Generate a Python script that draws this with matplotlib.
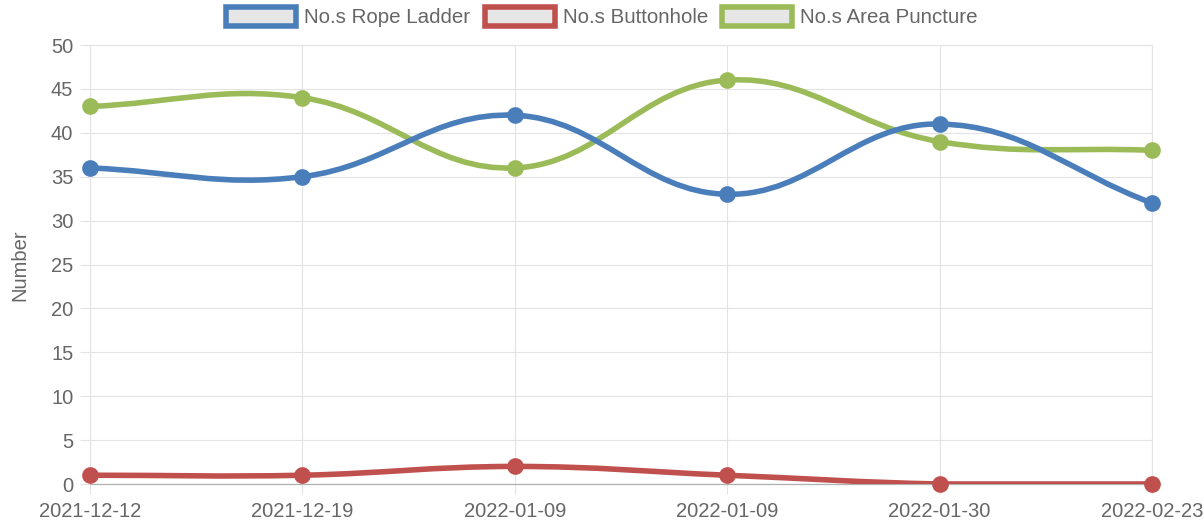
import numpy as np
import matplotlib
matplotlib.use('Agg')
import matplotlib.pyplot as plt
from matplotlib.path import Path
from matplotlib.patches import PathPatch, Rectangle

dates = ['2021-12-12', '2021-12-19', '2022-01-09', '2022-01-09', '2022-01-30', '2022-02-23']
rope_ladder = [36, 35, 42, 33, 41, 32]
buttonhole = [1, 1, 2, 1, 0, 0]
area_puncture = [43, 44, 36, 46, 39, 38]

names = ['No.s Rope Ladder', 'No.s Buttonhole', 'No.s Area Puncture']
colors = ['#4a7ebb', '#c0504d', '#9bbb59']
series = [rope_ladder, buttonhole, area_puncture]

plt.rcParams['font.family'] = ['Liberation Sans', 'DejaVu Sans']
txt = '#666666'
grid = '#e3e3e3'

fig = plt.figure(figsize=(12.04, 5.27), dpi=100)
ax = fig.add_axes([90 / 1204, 43 / 527, 1062 / 1204, 439 / 527])
xs = np.arange(len(dates))
ax.set_xlim(0, len(dates) - 1)
ax.set_ylim(0, 50)


def spline_path(x, y, tension=0.4):
    # chart.js style bezier, computed in pixel space
    pts = ax.transData.transform(np.column_stack([x, y]))
    bb = ax.bbox
    n = len(pts)
    cp_prev, cp_next = [], []
    for i in range(n):
        p0 = pts[max(i - 1, 0)]
        p1 = pts[i]
        p2 = pts[min(i + 1, n - 1)]
        d01 = np.hypot(*(p1 - p0))
        d12 = np.hypot(*(p2 - p1))
        tot = d01 + d12
        s01 = d01 / tot if tot else 0
        s12 = d12 / tot if tot else 0
        fa, fb = tension * s01, tension * s12
        a = p1 - fa * (p2 - p0)
        b = p1 + fb * (p2 - p0)
        a[1] = min(max(a[1], bb.y0), bb.y1)
        b[1] = min(max(b[1], bb.y0), bb.y1)
        cp_prev.append(a)
        cp_next.append(b)
    verts = [pts[0]]
    codes = [Path.MOVETO]
    for i in range(1, n):
        verts += [cp_next[i - 1], cp_prev[i], pts[i]]
        codes += [Path.CURVE4] * 3
    verts = ax.transData.inverted().transform(np.array(verts))
    return Path(verts, codes)


for k, (vals, c) in enumerate(zip(series, colors)):
    z = 10 - k
    path = spline_path(xs, vals)
    ax.add_patch(PathPatch(path, fill=False, edgecolor=c, lw=4, zorder=z, capstyle='round'))
    ax.plot(xs, vals, 'o', color=c, ms=9.5, mec=c, mew=2.5, zorder=z, clip_on=False)

ax.set_xticks(xs)
ax.set_xticklabels(dates)
ax.set_yticks(np.arange(0, 51, 5))
ax.grid(True, color=grid, lw=0.8)
ax.set_axisbelow(True)
for s in ['top', 'right', 'left']:
    ax.spines[s].set_color(grid)
    ax.spines[s].set_linewidth(0.8)
ax.spines['bottom'].set_color('#b0b0b0')
ax.spines['bottom'].set_linewidth(0.9)
ax.tick_params(axis='both', colors=grid, length=7, width=0.8, labelsize=14.5, labelcolor=txt)
ax.tick_params(axis='y', pad=5)
ax.tick_params(axis='x', pad=6)

fig.text(20 / 1204, 1 - 265 / 527, 'Number', rotation=90, ha='center', va='center',
         fontsize=14.5, color=txt)

handles = [Rectangle((0, 0), 1, 1, facecolor='#e6e6e6', edgecolor=c, lw=4) for c in colors]
fig.legend(handles, names, loc='center', bbox_to_anchor=(0.5, 1 - 17 / 527), ncol=3,
           frameon=False, fontsize=14.8, labelcolor=txt, handlelength=3.4, handleheight=1.1,
           handletextpad=0.4, columnspacing=0.7, borderaxespad=0)

fig.savefig('out.png', dpi=100)
